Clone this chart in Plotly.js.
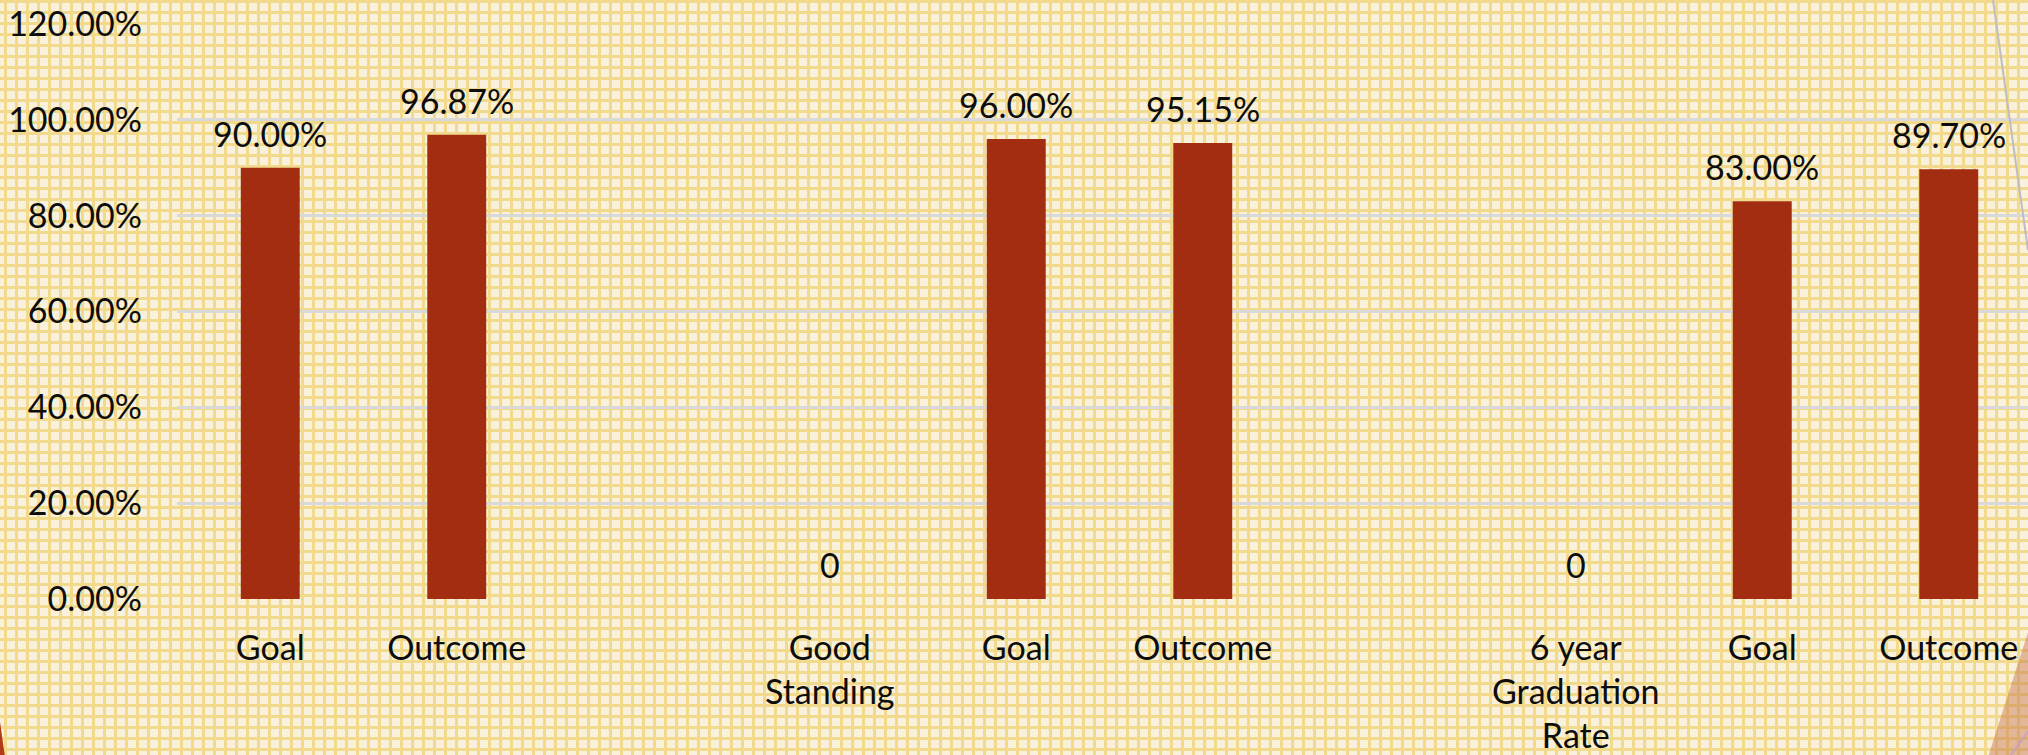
<!DOCTYPE html>
<html>
<head>
<meta charset="utf-8">
<script src="https://cdn.plot.ly/plotly-3.0.1.min.js"></script>
<style>
  html, body { margin: 0; padding: 0; width: 2028px; height: 755px; overflow: hidden; }
  body {
    background-color: #FAF1DC;
    background-image:
      linear-gradient(to right, #F1DA8C 0px, #F1DA8C 3px, transparent 3px),
      linear-gradient(to bottom, #F1DA8C 0px, #F1DA8C 3px, transparent 3px);
    background-size: 11px 11px;
    background-position: 4px 0px, 0px 0px;
  }
  #chart { width: 2028px; height: 755px; }
</style>
</head>
<body>
<div id="chart"></div>
<script>
// ---- data ----
const categories = ["Goal", "Outcome", "", "Good<br>Standing", "Goal", "Outcome", "", "6 year<br>Graduation<br>Rate", "Goal", "Outcome"];
const values = [0.90, 0.9687, null, 0, 0.96, 0.9515, null, 0, 0.83, 0.897];
const yTickVals = [0, 0.2, 0.4, 0.6, 0.8, 1.0, 1.2];
const yTickText = ["0.00%", "20.00%", "40.00%", "60.00%", "80.00%", "100.00%", "120.00%"];

// ---- chart ----
const W = 2028, H = 755;
const M = {l: 177, r: 0, t: 24, b: 156};
const positions = categories.map((c, i) => i);
const FONT = "Lato, 'Open Sans', sans-serif";
const TXT = "#0d0d0d";
const FS = 34;

function labelFor(v) {
  return v === 0 ? "0" : (v * 100).toFixed(2) + "%";
}

const annotations = [];
values.forEach((v, i) => {
  if (v === null) return;
  annotations.push({
    x: positions[i], y: v, xref: "x", yref: "y",
    text: labelFor(v), showarrow: false,
    yanchor: "bottom", xanchor: "center", yshift: 12,
    font: {family: FONT, size: FS, color: TXT}
  });
});

// decorative slide shapes (pixel -> paper conversion)
const pw = W - M.l - M.r, ph = H - M.t - M.b;
const px = p => (p - M.l) / pw;
const py = q => (H - M.b - q) / ph;
function path(pts) {
  return "M" + pts.map(p => px(p[0]) + "," + py(p[1])).join(" L") + " Z";
}
const shapes = [
  {type: "line", xref: "paper", yref: "paper", x0: px(1993), y0: py(0), x1: px(2028), y1: py(250),
   line: {color: "#BEBEBE", width: 2}, layer: "above"},
  {type: "path", xref: "paper", yref: "paper", path: path([[2030, 626], [1988, 757], [2030, 757]]),
   fillcolor: "rgba(200,120,80,0.48)", line: {width: 0}, layer: "above"},
  {type: "line", xref: "paper", yref: "paper", x0: px(2010), y0: py(756), x1: px(2030), y1: py(729),
   line: {color: "#C9A3BE", width: 2}, layer: "above"},
  {type: "path", xref: "paper", yref: "paper", path: path([[0, 722], [5, 757], [0, 757]]),
   fillcolor: "#B13B18", line: {width: 0}, layer: "above"}
];

const trace = {
  type: "bar",
  x: positions,
  y: values,
  width: 0.316,
  marker: {color: "#A22D11", line: {width: 0}},
  hoverinfo: "skip"
};

const layout = {
  width: W, height: H,
  margin: M,
  paper_bgcolor: "rgba(0,0,0,0)",
  plot_bgcolor: "rgba(0,0,0,0)",
  showlegend: false,
  font: {family: FONT, size: FS, color: TXT},
  xaxis: {
    range: [-0.5, -0.5 + pw / 186.5],
    tickmode: "array", tickvals: positions, ticktext: categories,
    showgrid: false, zeroline: false, showline: false, ticks: "",
    ticklabelstandoff: 26,
    tickfont: {family: FONT, size: FS, color: TXT},
    automargin: false, fixedrange: true
  },
  yaxis: {
    range: [0, 1.2],
    tickmode: "array", tickvals: yTickVals, ticktext: yTickText,
    showgrid: true, gridcolor: "#D9D9D9", gridwidth: 3,
    zeroline: false, showline: false, ticks: "",
    ticklabelstandoff: 34,
    tickfont: {family: FONT, size: FS, color: TXT},
    automargin: false, fixedrange: true
  },
  annotations: annotations,
  shapes: shapes
};

Plotly.newPlot("chart", [trace], layout, {displayModeBar: false, staticPlot: true});
</script>
</body>
</html>
